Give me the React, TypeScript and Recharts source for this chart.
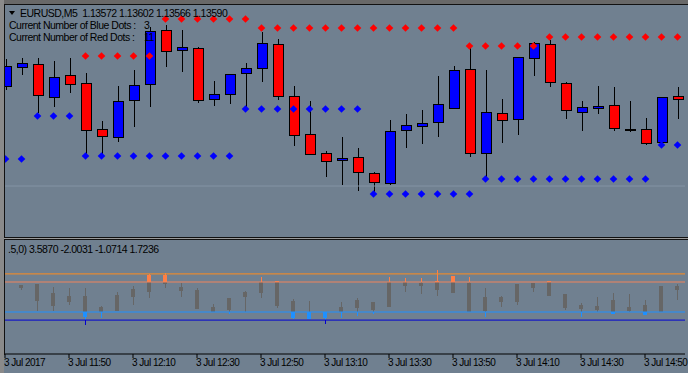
import React from "react";
import { ComposedChart, Bar, Line, XAxis, YAxis, ReferenceLine } from "recharts";

// 5 minute bars, 3 Jul 2017
const times = [
  "11:30", "11:35", "11:40", "11:45", "11:50", "11:55", "12:00", "12:05", "12:10", "12:15", "12:20",
  "12:25", "12:30", "12:35", "12:40", "12:45", "12:50", "12:55", "13:00", "13:05", "13:10", "13:15",
  "13:20", "13:25", "13:30", "13:35", "13:40", "13:45", "13:50", "13:55", "14:00", "14:05", "14:10",
  "14:15", "14:20", "14:25", "14:30", "14:35", "14:40", "14:45", "14:50", "14:55", "15:00",
];

const openP = [
  1.13594, 1.13613, 1.13616, 1.13583, 1.13605, 1.13597, 1.13551, 1.13543, 1.1358, 1.13596, 1.1365,
  1.1363, 1.13632, 1.13581, 1.13586, 1.13607, 1.13612, 1.13636, 1.13584, 1.13546, 1.13527, 1.1352,
  1.13523, 1.13507, 1.13497, 1.1355, 1.13554, 1.13558, 1.13572, 1.13611, 1.13527, 1.13567, 1.13561,
  1.13622, 1.13636, 1.13597, 1.13568, 1.13572, 1.13575, 1.13551, 1.13551, 1.13538, 1.13584,
];
const highP = [
  1.13621, 1.13622, 1.13622, 1.13619, 1.13622, 1.13607, 1.13559, 1.13594, 1.1361, 1.13653, 1.13655,
  1.1365, 1.13633, 1.13599, 1.13606, 1.13617, 1.13648, 1.13641, 1.13594, 1.13579, 1.13529, 1.13543,
  1.13532, 1.13508, 1.1356, 1.13566, 1.1357, 1.13604, 1.13614, 1.13632, 1.1361, 1.13581, 1.13623,
  1.13638, 1.1364, 1.13598, 1.13579, 1.13594, 1.13593, 1.13579, 1.13562, 1.13583, 1.13593,
];
const lowP = [
  1.1359, 1.13605, 1.13567, 1.13573, 1.13587, 1.13524, 1.13524, 1.13538, 1.13553, 1.13573, 1.13613,
  1.13608, 1.13577, 1.13574, 1.13576, 1.1357, 1.13598, 1.1358, 1.13534, 1.13526, 1.13503, 1.13495,
  1.13489, 1.13487, 1.13495, 1.13532, 1.13536, 1.13543, 1.13571, 1.13523, 1.13502, 1.13537, 1.13545,
  1.13604, 1.13593, 1.13561, 1.13549, 1.13566, 1.13549, 1.13548, 1.13535, 1.13538, 1.13561,
];
const closeP = [
  1.13614, 1.13617, 1.13585, 1.13603, 1.13596, 1.1355, 1.13544, 1.13579, 1.13595, 1.13649, 1.13629,
  1.13633, 1.1358, 1.13586, 1.13606, 1.13612, 1.13637, 1.13584, 1.13545, 1.13526, 1.13519, 1.13522,
  1.13508, 1.13498, 1.13549, 1.13555, 1.13557, 1.13576, 1.1361, 1.13527, 1.13568, 1.1356, 1.13623,
  1.13637, 1.13598, 1.1357, 1.13573, 1.13574, 1.13552, 1.13551, 1.13537, 1.13583, 1.13581,
];

const redDots = [
  null, null, null, null, null,
  1.13624, 1.13624, 1.13624, 1.13624, 1.13624,
  1.13661, 1.13661, 1.13661, 1.13661, 1.13661, 1.13661,
  1.13652, 1.13652, 1.13652, 1.13652, 1.13652, 1.13652, 1.13652, 1.13652, 1.13652, 1.13652, 1.13652, 1.13652, 1.13652,
  1.13634, 1.13634, 1.13634, 1.13634, 1.13634,
  1.13643, 1.13643, 1.13643, 1.13643, 1.13643, 1.13643, 1.13643, 1.13643, 1.13643,
];
const blueDots = [
  1.13521, 1.13521,
  1.13564, 1.13564, 1.13564,
  1.13524, 1.13524, 1.13524, 1.13524, 1.13524, 1.13524, 1.13524, 1.13524, 1.13524, 1.13524,
  1.13571, 1.13571, 1.13571, 1.13571, 1.13571, 1.13571, 1.13571, 1.13571,
  1.13486, 1.13486, 1.13486, 1.13486, 1.13486, 1.13486, 1.13486,
  1.13501, 1.13501, 1.13501, 1.13501, 1.13501, 1.13501, 1.13501, 1.13501, 1.13501, 1.13501, 1.13501,
  1.13535, 1.13535,
];

// oscillator window
const subHigh = [
  null, 4.0, 4.3, 3.3, 3.1, 3.1, -2.9, 1.8, 3.7, 7.6, 8.0, 4.7, 2.9, -2.2, -0.2, 2.0, 6.7, 5.3, -0.7, -1.3,
  -5.1, -1.8, -0.2, -1.6, 6.7, 6.2, 6.2, 9.0, 6.9, 6.7, 3.1, 0.4, 4.2, 4.7, 5.3, 0.9, -2.1, 0.0, 1.3, 0.9,
  -1.0, 3.7, 4.4,
];
const subBodyTop = [
  null, 4.0, 4.3, 1.3, 0.4, 0.3, -3.2, 0.7, 2.7, 7.3, 7.3, 3.4, 2.3, -3.2, -0.2, 1.6, 5.1, 5.3, -1.3, -4.9,
  -5.1, -3.2, -1.0, -1.8, 5.1, 5.1, 4.7, 5.3, 6.9, 4.7, 0.0, 0.0, 4.2, 4.7, 5.3, 0.9, -2.7, -2.9, -1.0, -3.2,
  -2.7, 3.7, 3.7,
];
const subBodyBottom = [
  null, 2.9, -1.3, -2.9, -1.6, -6.6, -4.9, -4.6, 0.1, 1.6, 4.2, 2.0, -4.1, -4.9, -4.3, 0.1, 1.2, -2.9, -7.1,
  -7.3, -7.1, -4.9, -3.8, -4.3, -3.2, 3.8, 3.8, 2.3, 1.2, -4.9, -4.7, -1.6, -1.6, 3.1, 0.4, -3.6, -4.0, -4.3,
  -5.8, -4.7, -6.0, -4.9, 2.4,
];
const subLow = [
  null, 2.2, -4.7, -4.7, -2.7, -9.3, -7.1, -4.6, -2.7, -0.2, 2.9, 0.0, -4.1, -4.9, -5.7, -4.9, -0.4, -3.8,
  -7.3, -7.3, -8.9, -7.1, -6.2, -5.8, -3.2, 1.6, 1.1, 0.4, 1.2, -4.9, -6.6, -3.2, -2.7, 1.8, 0.4, -4.3, -6.6,
  -4.9, -5.8, -4.9, -6.0, -4.9, -0.9,
];

const levels = [7.7, 5, -5, -7.7];
const levelColors = ["#ff8c1e", "#f0845c", "#1e90ff", "#0000d0"];

const FONT = "'Liberation Sans', Arial, sans-serif";
const GRAY = "#666666";
const ORANGE = "#ff7f45";

const rows = times.map((t, i) => ({
  t,
  o: openP[i],
  h: highP[i],
  l: lowP[i],
  c: closeP[i],
  red: redDots[i],
  blue: blueDots[i],
}));

const subRows = times.map((t, i) => ({
  t,
  h: subHigh[i],
  top: subBodyTop[i],
  bot: subBodyBottom[i],
  l: subLow[i],
}));

// value -> pixel, using the box the bar got for its [low, high] range
const mapper = (y: number, height: number, hi: number, lo: number) => {
  const top = Math.min(y, y + height);
  const span = Math.abs(height);
  return (v: number) => top + ((hi - v) / (hi - lo)) * span;
};

const Candle = (props: any) => {
  const { x, y, width, height, payload } = props;
  if (!payload || payload.h == null) return <g />;
  const px = mapper(y, height, payload.h, payload.l);
  const cx = Math.round(x + width / 2);
  const hiY = Math.round(px(payload.h));
  const loY = Math.round(px(payload.l));
  const bt = Math.round(px(Math.max(payload.o, payload.c)));
  const bb = Math.round(px(Math.min(payload.o, payload.c)));
  const fill = payload.c > payload.o ? "#0000ff" : "#ff0000";
  return (
    <g>
      <rect x={cx} y={hiY} width={1} height={Math.max(loY - hiY, 1)} fill="#000" />
      {bb - bt < 1 ? (
        <rect x={cx - 5} y={bt} width={11} height={2} fill="#000" />
      ) : (
        <rect x={cx - 4.5} y={bt + 0.5} width={10} height={bb - bt} fill={fill} stroke="#000" strokeWidth={1} />
      )}
    </g>
  );
};

const SubCandle = (props: any) => {
  const { x, y, width, height, payload } = props;
  if (!payload || payload.h == null) return <g />;
  const px = mapper(y, height, payload.h, payload.l);
  const cx = Math.round(x + width / 2);
  const parts: any[] = [];
  const seg = (a: number, b: number, lo: number, hi: number, xx: number, w: number, color: string) => {
    const top = Math.min(a, hi);
    const bot = Math.max(b, lo);
    if (top <= bot) return;
    const y1 = Math.round(px(top));
    const y2 = Math.max(Math.round(px(bot)), y1 + 1);
    parts.push(<rect key={parts.length} x={xx} y={y1} width={w} height={y2 - y1} fill={color} />);
  };
  const up1 = levels[1];
  const dn1 = levels[2];
  const dn2 = levels[3];
  seg(payload.h, payload.l, up1, Infinity, cx, 1, ORANGE);
  seg(payload.h, payload.l, dn1, up1, cx, 1, GRAY);
  seg(payload.h, payload.l, dn2, dn1, cx, 1, "#1e90ff");
  seg(payload.h, payload.l, -Infinity, dn2, cx, 1, "#0000d0");
  seg(payload.top, payload.bot, up1, Infinity, cx - 2, 4, ORANGE);
  seg(payload.top, payload.bot, dn1, up1, cx - 2, 4, GRAY);
  seg(payload.top, payload.bot, -Infinity, dn1, cx - 2, 4, "#1e90ff");
  return <g>{parts}</g>;
};

const diamond = (color: string) => (p: any) => {
  const { cx, cy, value, index } = p;
  const key = `${color}-${index}`;
  if (value == null || cy == null || Number.isNaN(cy)) return <g key={key} />;
  const r = 3.8;
  return (
    <polygon
      key={key}
      points={`${cx + 0.5},${cy - r} ${cx + 0.5 + r},${cy} ${cx + 0.5},${cy + r} ${cx + 0.5 - r},${cy}`}
      fill={color}
    />
  );
};

const TimeTick = (props: any) => {
  const { x, y, payload } = props;
  const label = payload.index === 0 ? "3 Jul 2017" : `3 Jul ${payload.value}`;
  return (
    <text x={x - 1} y={y + 8} fontSize={10} fill="#000" fontFamily={FONT} letterSpacing={-0.5} textAnchor="start">
      {label}
    </text>
  );
};

const txt: React.CSSProperties = {
  position: "absolute",
  fontFamily: FONT,
  fontSize: 10.5,
  lineHeight: "12px",
  letterSpacing: -0.5,
  color: "#000",
  whiteSpace: "pre",
};

export default function App() {
  return (
    <div style={{ position: "absolute", left: 0, top: 0, width: 688, height: 373, background: "#708090", overflow: "hidden" }}>
      <div style={{ position: "absolute", left: -3, top: 5 }}>
        <ComposedChart width={691} height={232} data={rows} margin={{ top: 0, right: 3, bottom: 0, left: 0 }}>
          <XAxis dataKey="t" hide />
          <YAxis hide domain={[1.13443, 1.13675]} allowDataOverflow />
          <ReferenceLine y={1.13494} stroke="#8393a4" />
          <Bar dataKey={(d: any) => [d.l, d.h]} barSize={11} shape={(p: any) => <Candle {...p} />} isAnimationActive={false} />
          <Line dataKey="red" stroke="none" dot={diamond("#ff0000")} activeDot={false} isAnimationActive={false} />
          <Line dataKey="blue" stroke="none" dot={diamond("#0000ff")} activeDot={false} isAnimationActive={false} />
        </ComposedChart>
      </div>

      <div style={{ position: "absolute", left: -3, top: 240 }}>
        <ComposedChart width={691} height={133} data={subRows} margin={{ top: 0, right: 3, bottom: 0, left: 0 }}>
          <XAxis
            dataKey="t"
            height={19}
            interval={3}
            tickSize={4}
            tickMargin={0}
            axisLine={{ stroke: "#000" }}
            tickLine={{ stroke: "#000" }}
            tick={<TimeTick />}
          />
          <YAxis hide domain={[-19, 19]} allowDataOverflow />
          {levels.map((v, i) => (
            <ReferenceLine key={v} y={v} stroke={levelColors[i]} />
          ))}
          <Bar
            dataKey={(d: any) => (d.h == null ? null : [d.l, d.h])}
            barSize={4}
            shape={(p: any) => <SubCandle {...p} />}
            isAnimationActive={false}
          />
        </ComposedChart>
      </div>

      {/* window frame */}
      <div style={{ position: "absolute", left: 0, top: 0, width: 688, height: 4, background: "#686868" }} />
      <div style={{ position: "absolute", left: 0, top: 4, width: 688, height: 1, background: "#111" }} />
      <div style={{ position: "absolute", left: 0, top: 0, width: 4, height: 373, background: "#8a8a8a" }} />
      <div style={{ position: "absolute", left: 4, top: 4, width: 1, height: 351, background: "#111" }} />
      <div style={{ position: "absolute", left: 4, top: 237, width: 684, height: 1, background: "#111" }} />
      <div style={{ position: "absolute", left: 4, top: 238, width: 684, height: 1, background: "#9a9a9a" }} />
      <div style={{ position: "absolute", left: 4, top: 239, width: 684, height: 1, background: "#111" }} />

      <svg style={{ position: "absolute", left: 0, top: 0 }} width={20} height={20}>
        <polygon points="9,11 15,11 12,15" fill="#000" />
      </svg>
      <div style={{ ...txt, left: 20, top: 7 }}>EURUSD,M5  1.13572 1.13602 1.13566 1.13590</div>
      <div style={{ ...txt, left: 9, top: 19 }}>Current Number of Blue Dots :</div>
      <div style={{ ...txt, left: 144, top: 19 }}>3</div>
      <div style={{ ...txt, left: 9, top: 31 }}>Current Number of Red Dots :</div>
      <div style={{ ...txt, left: 144, top: 31 }}>11</div>
      <div style={{ ...txt, left: 8, top: 243 }}>.5,0) 3.5870 -2.0031 -1.0714 1.7236</div>
    </div>
  );
}
